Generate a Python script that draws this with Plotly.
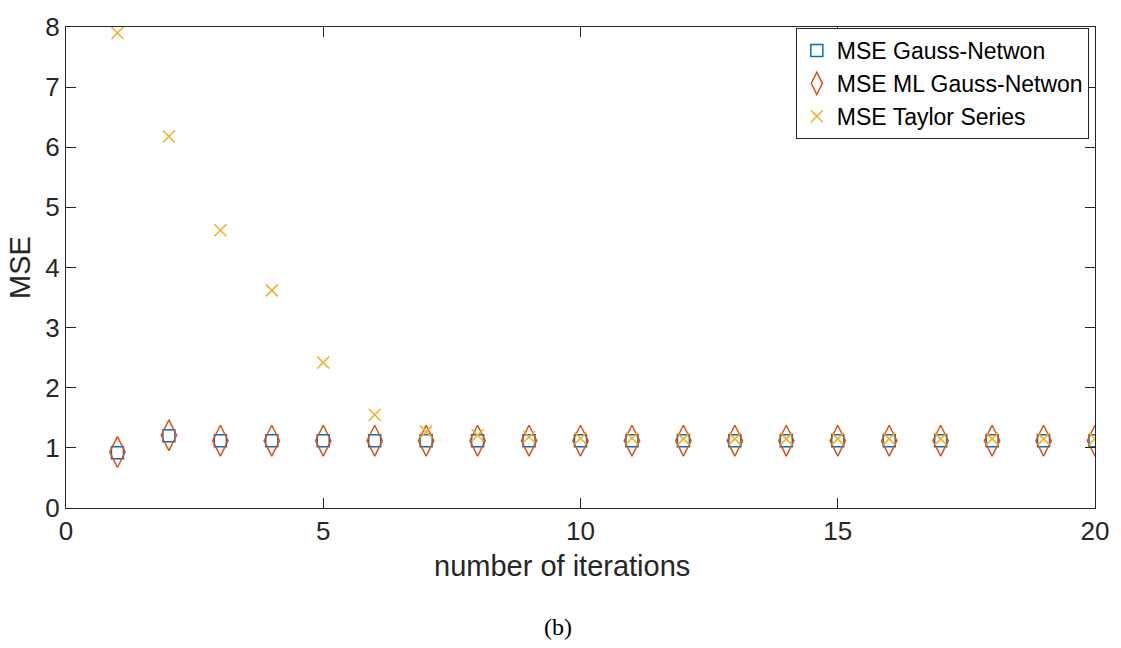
import plotly.graph_objects as go

iterations = list(range(1, 21))
mse_gn = [0.92, 1.20, 1.12, 1.12, 1.12, 1.12, 1.12, 1.12, 1.12, 1.12,
          1.12, 1.12, 1.12, 1.12, 1.12, 1.12, 1.12, 1.12, 1.12, 1.12]
mse_ml_gn = [0.93, 1.21, 1.12, 1.12, 1.12, 1.12, 1.12, 1.12, 1.12, 1.12,
             1.12, 1.12, 1.12, 1.12, 1.12, 1.12, 1.12, 1.12, 1.12, 1.12]
mse_taylor = [7.90, 6.18, 4.62, 3.62, 2.42, 1.55, 1.27, 1.21, 1.18, 1.16,
              1.16, 1.15, 1.15, 1.15, 1.15, 1.15, 1.15, 1.15, 1.15, 1.15]

FONT = "Liberation Sans, Arial"

fig = go.Figure()
fig.add_trace(go.Scatter(x=iterations, y=mse_gn, mode="markers", name="MSE Gauss-Netwon",
                         marker=dict(symbol="square-open", size=12, color="#0072BD",
                                     line=dict(width=1.5))))
fig.add_trace(go.Scatter(x=iterations, y=mse_ml_gn, mode="markers", name="MSE ML Gauss-Netwon",
                         marker=dict(symbol="diamond-tall-open", size=22, color="#D95319",
                                     line=dict(width=1.5))))
fig.add_trace(go.Scatter(x=iterations, y=mse_taylor, mode="markers", name="MSE Taylor Series",
                         marker=dict(symbol="x-thin-open", size=12, color="#EDB120",
                                     line=dict(width=1.5, color="#EDB120"))))

axis_common = dict(showgrid=False, zeroline=False, showline=True, mirror="ticks",
                   linecolor="#262626", linewidth=1, ticks="inside", ticklen=10,
                   tickcolor="#262626", tickfont=dict(family=FONT, size=26, color="#262626"))

fig.update_layout(
    width=1121, height=648,
    margin=dict(l=66, r=26, t=20, b=140),
    plot_bgcolor="white", paper_bgcolor="white",
    xaxis=dict(range=[0, 20], tickvals=[0, 5, 10, 15, 20], **axis_common),
    yaxis=dict(range=[0, 8], tickvals=[0, 1, 2, 3, 4, 5, 6, 7, 8],
               title=dict(text="MSE", standoff=6,
                          font=dict(family=FONT, size=29, color="#262626")),
               **axis_common),
    legend=dict(x=0.994, y=0.998, xanchor="right", yanchor="top",
                bgcolor="white", bordercolor="#262626", borderwidth=1,
                font=dict(family=FONT, size=23, color="black"),
                itemwidth=30, tracegroupgap=0),
    showlegend=True,
)
fig.add_annotation(text="number of iterations", xref="paper", yref="paper", x=0.482, y=-0.121,
                   yanchor="middle", showarrow=False,
                   font=dict(family=FONT, size=29, color="#262626"))
fig.add_annotation(text="(b)", xref="paper", yref="paper", x=0.478, y=-0.248,
                   yanchor="middle",
                   showarrow=False, font=dict(family="Liberation Serif, DejaVu Serif", size=24, color="black"))

fig.write_html("out.html")
